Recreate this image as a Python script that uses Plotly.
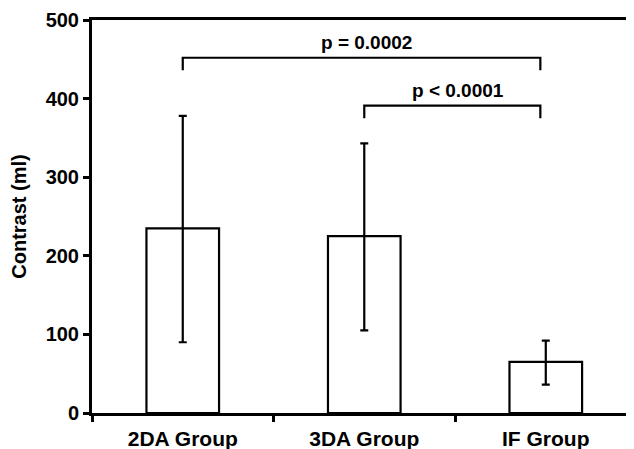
import plotly.graph_objects as go

categories = ["2DA Group", "3DA Group", "IF Group"]
means = [235, 225, 65]
err_upper = [378, 343, 92]
err_lower = [90, 105, 36]
y_ticks = [0, 100, 200, 300, 400, 500]
comparisons = [
    {"a": 0, "b": 2, "y": 452, "drop": 16, "label": "p = 0.0002", "ty": 472},
    {"a": 1, "b": 2, "y": 391, "drop": 16, "label": "p < 0.0001", "ty": 410},
]

err_plus = [u - m for u, m in zip(err_upper, means)]
err_minus = [m - l for m, l in zip(means, err_lower)]

font_family = "Liberation Sans, Arial, sans-serif"

fig = go.Figure()
fig.add_trace(go.Bar(
    x=categories, y=means, width=0.4,
    marker=dict(color="white", line=dict(color="black", width=2.2)),
    error_y=dict(type="data", symmetric=False, array=err_plus, arrayminus=err_minus,
                 color="black", thickness=2.2, width=4),
    showlegend=False,
))

for c in comparisons:
    xa = c["a"]
    xb = c["b"] - 0.03
    fig.add_shape(type="path", xref="x", yref="y",
                  path=f"M {xa},{c['y'] - c['drop']} L {xa},{c['y']} L {xb},{c['y']} L {xb},{c['y'] - c['drop']}",
                  line=dict(color="black", width=2.2))
    fig.add_annotation(x=(xa + xb) / 2 + 0.03, y=c["ty"], xref="x", yref="y",
                       text="<b>" + c["label"] + "</b>",
                       showarrow=False, font=dict(size=19, family=font_family, color="black"))

fig.update_layout(
    width=626, height=441,
    margin=dict(l=84, r=0, t=12, b=36),
    plot_bgcolor="white", paper_bgcolor="white",
    font=dict(family=font_family, size=20, color="black"),
    xaxis=dict(
        type="category", range=[-0.5, 2.486],
        showline=True, linecolor="black", linewidth=3, mirror=True,
        ticks="outside", tickson="boundaries", ticklen=6, tickwidth=3, tickcolor="black",
        tickfont=dict(size=21, family=font_family, weight="bold"),
        ticklabelstandoff=5,
        showgrid=False, zeroline=False,
    ),
    yaxis=dict(
        range=[0, 500], tickvals=y_ticks,
        showline=True, linecolor="black", linewidth=3,
        ticks="outside", ticklen=6, tickwidth=3, tickcolor="black",
        tickfont=dict(size=20, family=font_family, weight="bold"),
        showgrid=False, zeroline=False,
        title=dict(text="<b>Contrast (ml)</b>", font=dict(size=20, family=font_family), standoff=16),
    ),
)

fig.write_html("out.html")
